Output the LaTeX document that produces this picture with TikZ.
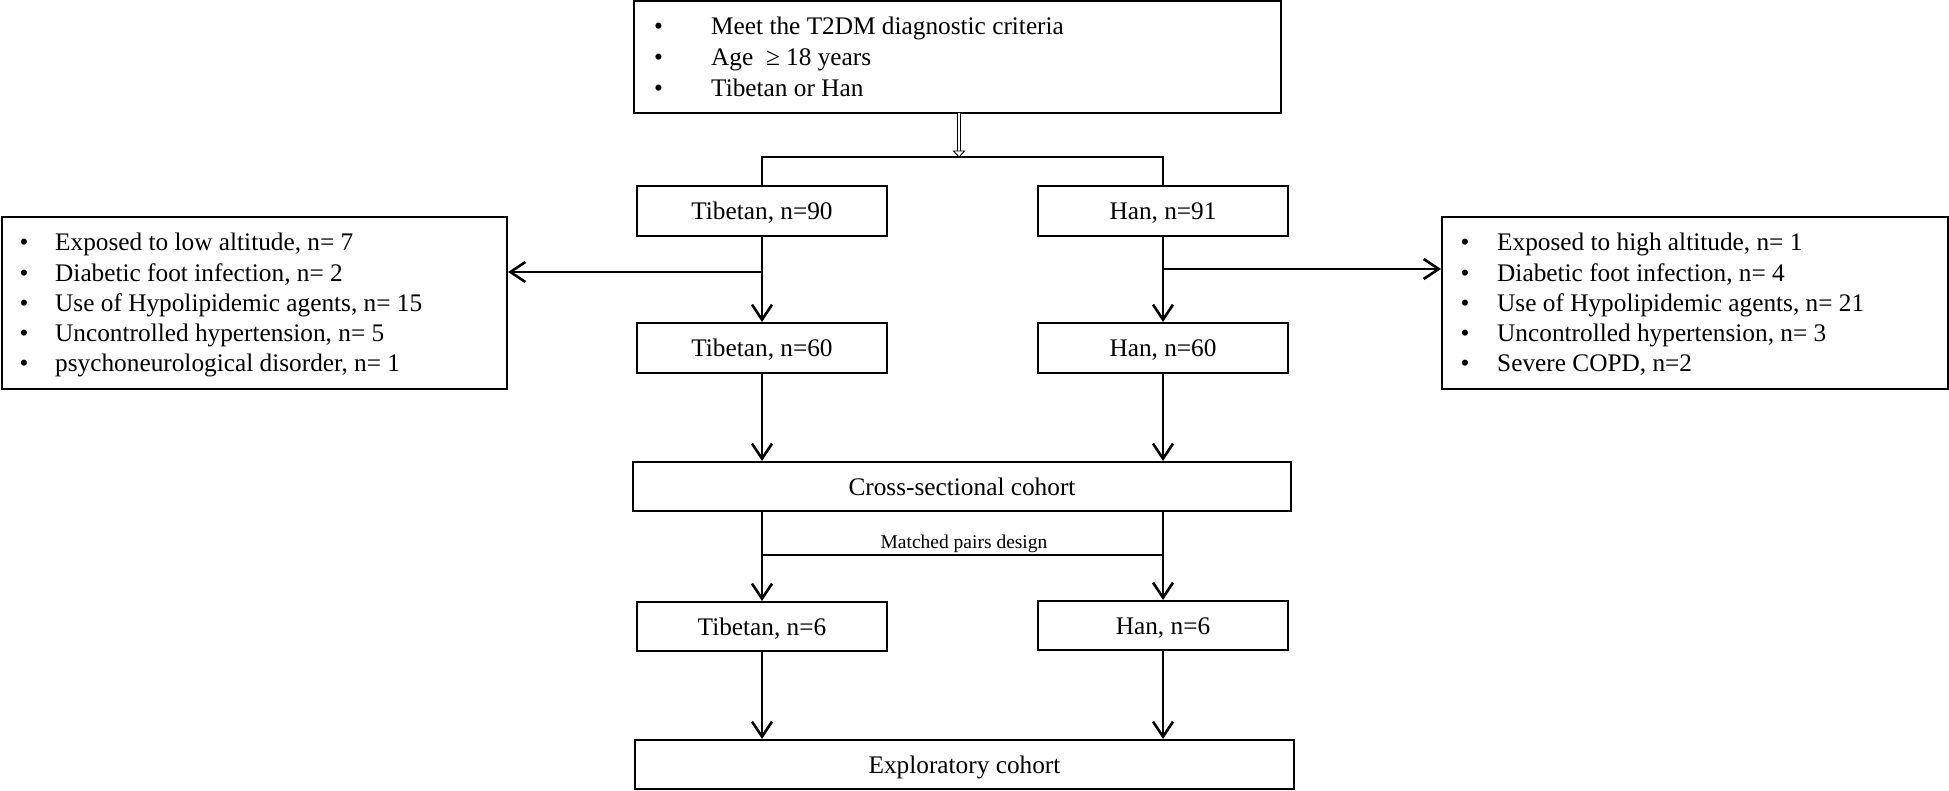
\documentclass[tikz,border=0pt]{standalone}
\usepackage{fontspec}
\setmainfont{Liberation Serif}
\usetikzlibrary{arrows.meta}
\begin{document}
\begin{tikzpicture}[x=1pt,y=-1pt,
  font=\fontsize{25.3}{30.3}\selectfont,
  box/.style={draw, line width=2pt, inner sep=0pt, text height=17pt, text depth=0pt},
  arr/.style={line width=2.6pt, -{Straight Barb[length=15pt,width=20pt]}},
  thinline/.style={line width=1.5pt},
  bul/.style={anchor=base west, inner sep=0pt},
]
\useasboundingbox[fill=white] (0,0) rectangle (1949,791);

% top box
\node[box, minimum width=647pt, minimum height=112pt] (top) at (957.5,57) {};
\node[bul] (tb1) at (654,35) {•};
\node[bul] (tt1) at (711,35) {Meet the T2DM diagnostic criteria};
\node[bul] (tb2) at (654,66) {•};
\node[bul] (tt2) at (711,66) {Age~~≥ 18 years};
\node[bul] (tb3) at (654,97) {•};
\node[bul] (tt3) at (711,97) {Tibetan or Han};

% group boxes
\node[box, minimum width=250pt, minimum height=50pt] (t90) at (762,211) {Tibetan, n=90};
\node[box, minimum width=250pt, minimum height=50pt] (h91) at (1163,211) {Han, n=91};
\node[box, minimum width=250pt, minimum height=50pt] (t60) at (762,348) {Tibetan, n=60};
\node[box, minimum width=250pt, minimum height=50pt] (h60) at (1163,348) {Han, n=60};
\node[box, minimum width=658pt, minimum height=49pt] (cross) at (962,486.5) {Cross-sectional cohort};
\node[box, minimum width=250pt, minimum height=49pt] (t6) at (762,626.5) {Tibetan, n=6};
\node[box, minimum width=250pt, minimum height=49pt] (h6) at (1163,625.5) {Han, n=6};
\node[box, minimum width=659pt, minimum height=49pt] (expl) at (964.5,764.5) {Exploratory cohort};

% exclusion boxes
\node[box, minimum width=505pt, minimum height=172pt] (lbox) at (254.5,303) {};
\node[bul] (lb1) at (19.5,251) {•};
\node[bul] (lt1) at (55,251) {Exposed to low altitude, n= 7};
\node[bul] (lb2) at (19.5,281.25) {•};
\node[bul] (lt2) at (55,281.25) {Diabetic foot infection, n= 2};
\node[bul] (lb3) at (19.5,311.5) {•};
\node[bul] (lt3) at (55,311.5) {Use of Hypolipidemic agents, n= 15};
\node[bul] (lb4) at (19.5,341.75) {•};
\node[bul] (lt4) at (55,341.75) {Uncontrolled hypertension, n= 5};
\node[bul] (lb5) at (19.5,372) {•};
\node[bul] (lt5) at (55,372) {psychoneurological disorder, n= 1};

\node[box, minimum width=506pt, minimum height=172pt] (rbox) at (1695,303) {};
\node[bul] (rb1) at (1460.5,251) {•};
\node[bul] (rt1) at (1497,251) {Exposed to high altitude, n= 1};
\node[bul] (rb2) at (1460.5,281.25) {•};
\node[bul] (rt2) at (1497,281.25) {Diabetic foot infection, n= 4};
\node[bul] (rb3) at (1460.5,311.5) {•};
\node[bul] (rt3) at (1497,311.5) {Use of Hypolipidemic agents, n= 21};
\node[bul] (rb4) at (1460.5,341.75) {•};
\node[bul] (rt4) at (1497,341.75) {Uncontrolled hypertension, n= 3};
\node[bul] (rb5) at (1460.5,372) {•};
\node[bul] (rt5) at (1497,372) {Severe COPD, n=2};

% top split
\coordinate (dtop) at (959,113);
\coordinate (dmid) at (959,151);
\coordinate (dbot) at (959,157);
\coordinate (sL) at (762,157);
\coordinate (sR) at (1163,157);
\draw[double, double distance=2.4pt, line width=0.9pt] (dtop) -- (dmid);
\draw[line width=0.9pt, fill=white] ([xshift=-5.5pt]dmid) -- ([xshift=5.5pt]dmid) -- (dbot) -- cycle;
\draw[thinline] (t90.north) -- (sL) -- (sR) -- (h91.north);

% first exclusion
\coordinate (bl) at (762,272);
\coordinate (br) at (1163,269);
\draw[arr] (t90.south) -- (t60.north);
\draw[arr] (h91.south) -- (h60.north);
\draw[arr] (bl) -- (bl -| lbox.east);
\draw[arr] (br) -- (br -| rbox.west);

% to cross-sectional
\draw[arr] (t60.south) -- (t60.south |- cross.north);
\draw[arr] (h60.south) -- (h60.south |- cross.north);

% matched pairs
\draw[arr] (cross.south -| t6.north) -- (t6.north);
\draw[arr] (cross.south -| h6.north) -- (h6.north);
\coordinate (mL) at (762,555);
\coordinate (mR) at (1163,555);
\draw[thinline] (mL) -- (mR);
\node[anchor=base, inner sep=0pt, font=\fontsize{19.5}{23}\selectfont] (mlab) at (964,548) {Matched pairs design};

% to exploratory
\draw[arr] (t6.south) -- (t6.south |- expl.north);
\draw[arr] (h6.south) -- (h6.south |- expl.north);
\end{tikzpicture}
\end{document}
